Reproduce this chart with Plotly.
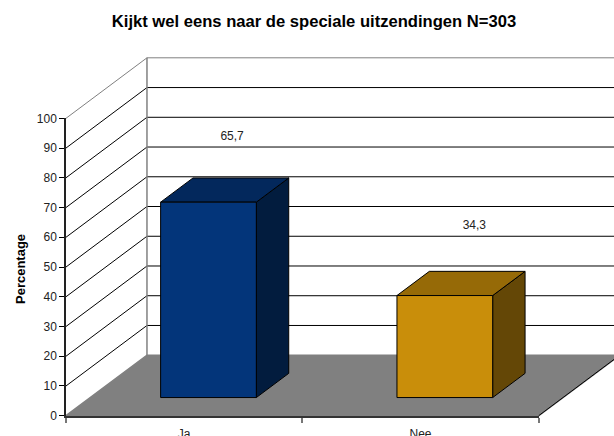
import plotly.graph_objects as go

title = "Kijkt wel eens naar de speciale uitzendingen N=303"
y_title = "Percentage"
categories = ["Ja", "Nee"]
values = [65.7, 34.3]
value_labels = ["65,7", "34,3"]
y_ticks = [0, 10, 20, 30, 40, 50, 60, 70, 80, 90, 100]

front_colors = ["#03357A", "#C98E0A"]
top_colors = ["#03285C", "#966A07"]
side_colors = ["#021C3E", "#644706"]

W, H = 614, 436
PX_L, PX_R, PY_T, PY_B = 66.0, 538.7, 118.3, 415.7   # frame of the front axes
DX, DY = 0.3426, 20.34          # oblique offset of full depth, in axis units
D0, D1 = 0.3, 0.7               # bar front / back depth
HALF = 0.2025                   # half bar width
X0, X1 = -0.5, 1.5
LABEL_DX = [0.1, 0.125]
LABEL_DY = [22.0, 23.5]
FONT = "Liberation Sans, Arial, sans-serif"

ux = (X1 - X0) / (PX_R - PX_L)
uy = 100 / (PY_B - PY_T)


def P(x, v, d):
    return x + d * DX, v + d * DY


def poly(points, fill, line="#000000", width=1):
    xs = [p[0] for p in points] + [points[0][0]]
    ys = [p[1] for p in points] + [points[0][1]]
    return go.Scatter(x=xs, y=ys, mode="lines", fill="toself", fillcolor=fill,
                      line=dict(color=line, width=width),
                      hoverinfo="skip", showlegend=False)


def path(points, color, width=1):
    return go.Scatter(x=[p[0] for p in points], y=[p[1] for p in points], mode="lines",
                      line=dict(color=color, width=width),
                      hoverinfo="skip", showlegend=False)


fig = go.Figure()

# floor
fig.add_trace(poly([P(X0, 0, 0), P(X1, 0, 0), P(X1, 0, 1), P(X0, 0, 1)], "#808080", "#808080", 1.5))
fig.add_trace(path([P(X1, 0, 0), P(X1, 0, 1)], "#000000"))

# wall grid lines
for t in y_ticks[1:]:
    c = "#808080" if t == y_ticks[-1] else "#000000"
    fig.add_trace(path([P(X0, t, 0), P(X0, t, 1), P(X1, t, 1)], c))
fig.add_trace(path([P(X0, 0, 1), P(X0, y_ticks[-1], 1)], "#808080", 1.5))

# bars
for i, v in enumerate(values):
    l, r = i - HALF, i + HALF
    fig.add_trace(poly([P(r, 0, D0), P(r, 0, D1), P(r, v, D1), P(r, v, D0)], side_colors[i]))
    fig.add_trace(poly([P(l, v, D0), P(r, v, D0), P(r, v, D1), P(l, v, D1)], top_colors[i]))
    fig.add_trace(poly([P(l, 0, D0), P(r, 0, D0), P(r, v, D0), P(l, v, D0)], front_colors[i]))

# value labels (drawn on the visible front axes)
fig.add_trace(go.Scatter(
    x=[i + LABEL_DX[i] + D0 * DX for i in range(len(values))],
    y=[v + LABEL_DY[i] + D0 * DY for i, v in enumerate(values)],
    xaxis="x2", yaxis="y2",
    mode="text", text=value_labels, textposition="middle center",
    textfont=dict(family=FONT, size=12, color="#222222"),
    hoverinfo="skip", showlegend=False))

fig.update_layout(
    width=W, height=H,
    margin=dict(l=0, r=0, t=0, b=0, pad=0),
    paper_bgcolor="#FFFFFF", plot_bgcolor="rgba(0,0,0,0)",
    showlegend=False,
    font=dict(family=FONT, color="#222222"),
    title=dict(text=f"<b>{title}</b>", x=314 / W, xref="paper", xanchor="center",
               y=1 - 21 / H, yref="container", yanchor="middle",
               font=dict(family=FONT, size=16.6, color="#000000")),
    annotations=[dict(text=f"<b>{y_title}</b>", textangle=-90, showarrow=False,
                      xref="paper", yref="paper", x=20 / W, y=1 - 269 / H,
                      xanchor="center", yanchor="middle",
                      font=dict(family=FONT, size=13, color="#000000"))],
    # full-page drawing axes, same scale as the front axes
    xaxis=dict(domain=[0, 1], range=[X0 - PX_L * ux, X0 + (W - PX_L) * ux], visible=False,
               automargin=False),
    yaxis=dict(domain=[0, 1], range=[-(H - PY_B) * uy, PY_B * uy], visible=False,
               automargin=False),
    # visible front axes
    xaxis2=dict(domain=[PX_L / W, PX_R / W], anchor="y2", range=[X0, X1], automargin=False,
                tickmode="array", tickvals=[0, 1], ticktext=categories,
                ticks="", ticklabelstandoff=6, showgrid=False, zeroline=False,
                showline=True, linecolor="#333333", linewidth=2,
                tickfont=dict(family=FONT, size=12, color="#222222"),
                minor=dict(tickmode="array", tickvals=[-0.5, 0.5, 1.5], ticks="outside",
                           ticklen=5, tickcolor="#777777", tickwidth=1.5, showgrid=False)),
    yaxis2=dict(domain=[(H - PY_B) / H, (H - PY_T) / H], anchor="x2", range=[0, 100],
                automargin=False,
                tickmode="array", tickvals=y_ticks, ticks="outside",
                ticklen=5, tickcolor="#000000", tickwidth=1, showgrid=False, zeroline=False,
                showline=True, linecolor="#222222", linewidth=1.5,
                tickfont=dict(family=FONT, size=12, color="#222222")),
)

fig.write_html("out.html", config=dict(displayModeBar=False),
               post_script="document.body.style.margin='0';document.body.style.overflow='hidden';")
